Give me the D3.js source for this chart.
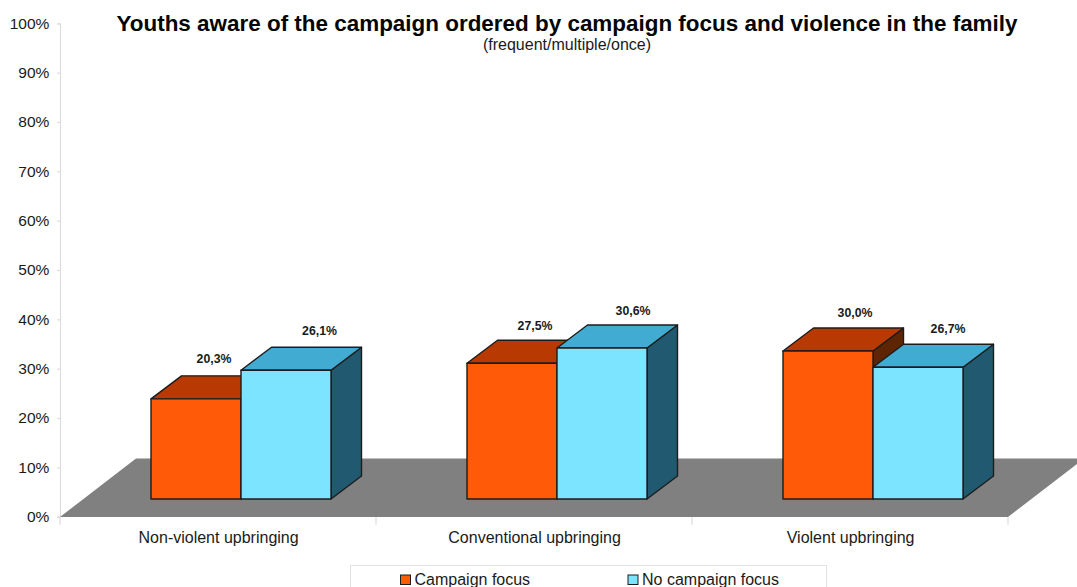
<!DOCTYPE html>
<html><head><meta charset="utf-8">
<script src="https://cdn.jsdelivr.net/npm/d3@7/dist/d3.min.js"></script>
<style>html,body{margin:0;padding:0;background:#fff}svg{display:block}text{font-family:"Liberation Sans",Arial,sans-serif;fill:#1a1a1a}</style>
</head><body><svg id="c" width="1077" height="587"></svg>
<script>
const categories = ["Non-violent upbringing","Conventional upbringing","Violent upbringing"];
const seriesNames = ["Campaign focus","No campaign focus"];
const campaignFocus = [20.3,27.5,30.0];
const noCampaignFocus = [26.1,30.6,26.7];
const yTicks = [0,10,20,30,40,50,60,70,80,90,100];
const decimalLabel = v => v.toFixed(1).replace(".",",")+"%";

const svg = d3.select("#c");
const x0 = d3.scaleBand().domain(categories).range([60,1008]);
const x1 = d3.scaleBand().domain(seriesNames).range([0,180]);
const y = d3.scaleLinear().domain([0,100]).range([516.7,23.3]);

const colors = [
  {front:"#ff5a08",top:"#b83a02",side:"#5e2503"},
  {front:"#7ce4ff",top:"#42abd1",side:"#215a70"}
];
const axisCol = "#dcdcdc";
const floorDX = 76, floorDY = -58.5;
const depthDX = 30.5, depthDY = -23;
const baseLift = 17.7, barInset = 91;
// hand-placed label nudges seen in the picture (per category, per series)
const labelDX = [[18,33.5],[23,31],[27,30]];
const labelDY = [[-40,-39],[-37,-37],[-37.5,-38]];

// axes
const yAxis = d3.axisLeft(y).tickValues(yTicks).tickSize(3).tickPadding(7.7).tickFormat(d=>d+"%");
const yG = svg.append("g").attr("transform","translate(60,0)").call(yAxis);
yG.select(".domain").attr("stroke",axisCol).attr("stroke-width",1.2);
yG.selectAll(".tick line").attr("stroke",axisCol).attr("stroke-width",1.2);
yG.selectAll("text").style("font-size","15.5px").attr("dy","0.32em");

const xEdges = [60,...categories.map(c=>x0(c)+x0.step())];
svg.append("g").selectAll("line").data(xEdges).join("line")
  .attr("x1",d=>d).attr("x2",d=>d).attr("y1",y(0)).attr("y2",y(0)+8)
  .attr("stroke",axisCol).attr("stroke-width",1.2);

// floor
const fx0=x0.range()[0], fx1=x0.range()[1], fy=y(0)+0.3;
svg.append("path")
  .attr("d",d3.line()([[fx0,fy],[fx1,fy],[fx1+floorDX,fy+floorDY],[fx0+floorDX,fy+floorDY]])+"Z")
  .attr("fill","#808080");

// category labels
svg.append("g").selectAll("text").data(categories).join("text")
  .attr("x",d=>x0(d)+x0.bandwidth()/2+0.6).attr("y",542.5).attr("text-anchor","middle")
  .style("font-size","16px").text(d=>d);

// bars, drawn series by series, each in category order
const line = d3.line();
const stroke = {stroke:"#1c1c1c","stroke-width":1.4,"stroke-linejoin":"round"};
function poly(g,pts,fill){
  const p=g.append("path").attr("d",line(pts)+"Z").attr("fill",fill);
  Object.entries(stroke).forEach(([k,v])=>p.attr(k,v));
}
const values=[campaignFocus,noCampaignFocus];
categories.forEach((c,ci)=>{
  seriesNames.forEach((s,si)=>{
    const v=values[si][ci];
    const l=x0(c)+barInset+x1(s), r=l+x1.bandwidth();
    const t=y(v)-baseLift, b=y(0)-baseLift;
    const g=svg.append("g");
    poly(g,[[r,b],[r+depthDX,b+depthDY],[r+depthDX,t+depthDY],[r,t]],colors[si].side);
    poly(g,[[l,t],[r,t],[r+depthDX,t+depthDY],[l+depthDX,t+depthDY]],colors[si].top);
  });
  seriesNames.forEach((s,si)=>{
    const v=values[si][ci];
    const l=x0(c)+barInset+x1(s), r=l+x1.bandwidth();
    const t=y(v)-baseLift, b=y(0)-baseLift;
    poly(svg.append("g"),[[l,t],[r,t],[r,b],[l,b]],colors[si].front);
    svg.append("text").attr("x",(l+r)/2+labelDX[ci][si]).attr("y",t+labelDY[ci][si]+4)
      .attr("text-anchor","middle").style("font-size","12.3px").style("font-weight","bold")
      .text(decimalLabel(v));
  });
});

// title
svg.append("text").attr("x",567).attr("y",30.7).attr("text-anchor","middle")
  .style("font-size","22.45px").style("font-weight","bold").style("fill","#050505")
  .text("Youths aware of the campaign ordered by campaign focus and violence in the family");
svg.append("text").attr("x",567).attr("y",49.5).attr("text-anchor","middle")
  .style("font-size","16px").text("(frequent/multiple/once)");

// legend
svg.append("rect").attr("x",350.5).attr("y",565.5).attr("width",476).attr("height",40)
  .attr("fill","#fff").attr("stroke","#e2e2e2");
const legendX=[400,627.5];
seriesNames.forEach((s,i)=>{
  svg.append("rect").attr("x",legendX[i]+.5).attr("y",575).attr("width",10).attr("height",9.5)
    .attr("fill",colors[i].front).attr("stroke","#1c1c1c");
  svg.append("text").attr("x",legendX[i]+14.5).attr("y",585).style("font-size","16px").text(s);
});
</script></body></html>
